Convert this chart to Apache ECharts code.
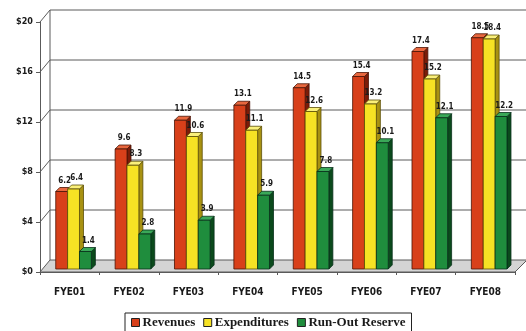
<!DOCTYPE html>
<html>
<head>
<meta charset="utf-8">
<script src="https://cdn.jsdelivr.net/npm/echarts@6/dist/echarts.min.js"></script>
<style>
  html, body { margin: 0; padding: 0; background: #ffffff; }
  #chart { width: 526px; height: 331px; }
</style>
</head>
<body>
<div id="chart"></div>
<script>
// Fiscal years on the category axis
var years = ['FYE01', 'FYE02', 'FYE03', 'FYE04', 'FYE05', 'FYE06', 'FYE07', 'FYE08'];
// Values in $ millions
var revenues     = [6.2, 9.6, 11.9, 13.1, 14.5, 15.4, 17.4, 18.5];
var expenditures = [6.4, 8.3, 10.6, 11.1, 12.6, 13.2, 15.2, 18.4];
var runOutReserve = [1.4, 2.8, 3.9, 5.9, 7.8, 10.1, 12.1, 12.2];
// Value-axis ticks
var yTicks = [0, 4, 8, 12, 16, 20];

// Depth of the back wall and of the bar boxes (px)
var WALL_DX = 10, WALL_DY = 12;
var BAR_DX = 4, BAR_DY = 4, BAR_SINK = 3;

var palettes = [
  { front: '#d8401a', side: '#7c1c08', top: '#e8673e', edge: '#4a1406' },
  { front: '#f6e224', side: '#a89212', top: '#faf07a', edge: '#5a4e08' },
  { front: '#1f8d3d', side: '#0b4a1c', top: '#3aa858', edge: '#08301a' }
];

function wallItem(params, api) {
  var cs = params.coordSys;
  var v = api.value(0);
  var y = api.coord([0, v])[1];
  var x0 = cs.x;
  var x1 = cs.x + cs.width;
  var children = [];
  var lineStyle = { stroke: '#5a5a5a', lineWidth: 1 };
  if (v === 0) {
    children.push({
      type: 'polygon',
      shape: { points: [[x0, y], [x0 + WALL_DX, y - WALL_DY], [x1 + WALL_DX + 2, y - WALL_DY], [x1, y]] },
      style: { fill: '#d4d4d4', stroke: '#5a5a5a', lineWidth: 1 }
    });
    // back vertical edge of the side wall
    var yTop = api.coord([0, yTicks[yTicks.length - 1]])[1];
    children.push({
      type: 'line',
      shape: { x1: x0 + WALL_DX, y1: y - WALL_DY, x2: x0 + WALL_DX, y2: yTop - WALL_DY },
      style: lineStyle
    });
  } else {
    children.push({
      type: 'polyline',
      shape: { points: [[x0, y], [x0 + WALL_DX, y - WALL_DY], [x1 + WALL_DX + 20, y - WALL_DY]] },
      style: { stroke: '#5a5a5a', lineWidth: 1, fill: null }
    });
  }
  return { type: 'group', children: children };
}

function barRenderer(idx) {
  var pal = palettes[idx];
  return function (params, api) {
    var ci = api.value(0);
    var val = api.value(1);
    var catW = api.size([1, 0])[0];
    var center = api.coord([ci, 0]);
    var base = center[1] - BAR_SINK;
    var top = api.coord([ci, val])[1] - BAR_SINK;
    var w = catW * 0.2;
    var xl = center[0] + catW * (-0.235 + idx * 0.2);
    var xr = xl + w;
    return {
      type: 'group',
      children: [
        {
          type: 'polygon',
          shape: { points: [[xr, base], [xr + BAR_DX, base - BAR_DY], [xr + BAR_DX, top - BAR_DY], [xr, top]] },
          style: { fill: pal.side, stroke: pal.edge, lineWidth: 0.8 }
        },
        {
          type: 'polygon',
          shape: { points: [[xl, top], [xl + BAR_DX, top - BAR_DY], [xr + BAR_DX, top - BAR_DY], [xr, top]] },
          style: { fill: pal.top, stroke: pal.edge, lineWidth: 0.8 }
        },
        {
          type: 'rect',
          shape: { x: xl, y: top, width: w, height: base - top },
          style: { fill: pal.front, stroke: pal.edge, lineWidth: 0.8 }
        },
        {
          type: 'text',
          style: {
            x: xl + w / 2 + 3, y: top - BAR_DY - 3,
            text: val.toFixed(1),
            fill: '#1a1a1a',
            font: 'bold 8px "DejaVu Sans Condensed", sans-serif',
            align: 'center', verticalAlign: 'bottom'
          }
        }
      ]
    };
  };
}

function toPairs(arr) {
  return arr.map(function (v, i) { return [i, v]; });
}

var chart = echarts.init(document.getElementById('chart'), null, { renderer: 'canvas' });
chart.setOption({
  animation: false,
  backgroundColor: '#ffffff',
  grid: { left: 40, right: 11, top: 22, bottom: 59, containLabel: false },
  xAxis: {
    type: 'category',
    data: years,
    axisLine: { show: true, lineStyle: { color: '#5a5a5a', width: 1 } },
    axisTick: { show: true, length: 3, lineStyle: { color: '#5a5a5a' } },
    axisLabel: { margin: 15, color: '#1a1a1a', fontSize: 10, fontWeight: 'bold', fontFamily: '"DejaVu Sans Condensed", sans-serif' },
    splitLine: { show: false }
  },
  yAxis: {
    type: 'value',
    min: 0, max: 20, interval: 4,
    axisLine: { show: true, lineStyle: { color: '#5a5a5a', width: 1 } },
    axisTick: { show: true, length: 4, lineStyle: { color: '#5a5a5a' } },
    axisLabel: {
      margin: 7, color: '#1a1a1a', fontSize: 9, fontWeight: 'bold',
      fontFamily: '"DejaVu Sans Condensed", sans-serif',
      formatter: function (v) { return '$' + v; }
    },
    splitLine: { show: false }
  },
  legend: {
    top: 313,
    left: 125,
    data: [
      { name: 'Revenues', icon: 'rect', itemStyle: { color: palettes[0].front, borderColor: '#222', borderWidth: 1 } },
      { name: 'Expenditures', icon: 'rect', itemStyle: { color: palettes[1].front, borderColor: '#222', borderWidth: 1 } },
      { name: 'Run-Out Reserve', icon: 'rect', itemStyle: { color: palettes[2].front, borderColor: '#222', borderWidth: 1 } }
    ],
    itemWidth: 8, itemHeight: 8, itemGap: 8,
    borderColor: '#222', borderWidth: 1,
    padding: [3, 6, 6, 6],
    textStyle: { fontFamily: '"Liberation Serif", serif', fontWeight: 'bold', fontSize: 13, color: '#1a1a1a', padding: [0, 0, 0, -2] }
  },
  series: [
    {
      type: 'custom', name: 'wall', z: 1, silent: true,
      renderItem: wallItem,
      data: yTicks.map(function (v) { return [v]; }),
      encode: { y: 0 }
    },
    {
      type: 'custom', name: 'Revenues', z: 3,
      itemStyle: { color: palettes[0].front },
      renderItem: barRenderer(0),
      data: toPairs(revenues),
      encode: { x: 0, y: 1 }
    },
    {
      type: 'custom', name: 'Expenditures', z: 3,
      itemStyle: { color: palettes[1].front },
      renderItem: barRenderer(1),
      data: toPairs(expenditures),
      encode: { x: 0, y: 1 }
    },
    {
      type: 'custom', name: 'Run-Out Reserve', z: 3,
      itemStyle: { color: palettes[2].front },
      renderItem: barRenderer(2),
      data: toPairs(runOutReserve),
      encode: { x: 0, y: 1 }
    }
  ]
});
</script>
</body>
</html>
